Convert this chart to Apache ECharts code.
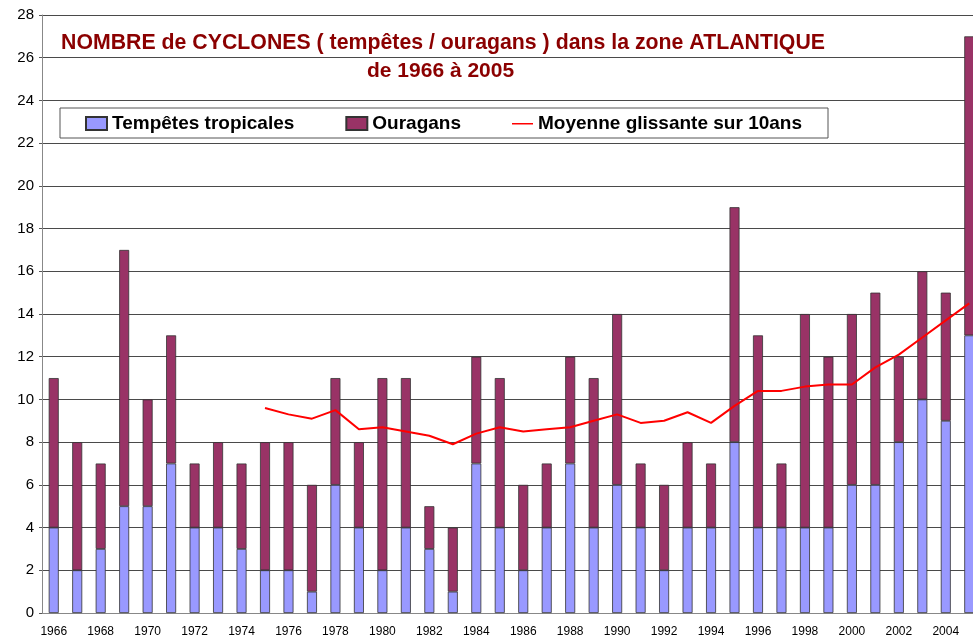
<!DOCTYPE html>
<html>
<head>
<meta charset="utf-8">
<script src="https://cdn.jsdelivr.net/npm/echarts@6/dist/echarts.min.js"></script>
<style>
  html, body { margin: 0; padding: 0; background: #fff; }
  #chart { width: 973px; height: 635px; }
</style>
</head>
<body>
<div id="chart"></div>
<script>
const years = ['1966', '1967', '1968', '1969', '1970', '1971', '1972', '1973', '1974', '1975',
  '1976', '1977', '1978', '1979', '1980', '1981', '1982', '1983', '1984', '1985',
  '1986', '1987', '1988', '1989', '1990', '1991', '1992', '1993', '1994', '1995',
  '1996', '1997', '1998', '1999', '2000', '2001', '2002', '2003', '2004', '2005']

// tempetes tropicales (bas de la pile)
const tempetes = [4, 2, 3, 5, 5, 7, 4, 4, 3, 2,
  2, 1, 6, 4, 2, 4, 3, 1, 7, 4,
  2, 4, 7, 4, 6, 4, 2, 4, 4, 8,
  4, 4, 4, 4, 6, 6, 8, 10, 9, 13]

// ouragans (haut de la pile)
const ouragans = [7, 6, 4, 12, 5, 6, 3, 4, 4, 6,
  6, 5, 5, 4, 9, 7, 2, 3, 5, 7,
  4, 3, 5, 7, 8, 3, 4, 4, 3, 11,
  9, 3, 10, 8, 8, 9, 4, 6, 6, 14]

// moyenne glissante sur 10 ans, commence en 1975
const moyenne = ['-', '-', '-', '-', '-', '-', '-', '-', '-', 9.6,
  9.3, 9.1, 9.5, 8.6, 8.7, 8.5, 8.3, 7.9, 8.4, 8.7,
  8.5, 8.6, 8.7, 9.0, 9.3, 8.9, 9.0, 9.4, 8.9, 9.7,
  10.4, 10.4, 10.6, 10.7, 10.7, 11.5, 12.1, 12.9, 13.7, 14.5]

const yTicks = { min: 0, max: 28, step: 2 }

const font = '"Liberation Sans", Arial, sans-serif'
const titleColor = '#8b0000'

const chart = echarts.init(document.getElementById('chart'))

const option = {
  backgroundColor: '#fff',
  animation: false,
  title: [
    {
      text: 'NOMBRE de CYCLONES ( tempêtes / ouragans ) dans la zone ATLANTIQUE',
      left: 61,
      top: 33,
      padding: 0,
      textStyle: { color: titleColor, fontSize: 21.3, fontWeight: 'bold', fontFamily: font }
    },
    {
      text: 'de 1966 à 2005',
      left: 367,
      top: 61,
      padding: 0,
      textStyle: { color: titleColor, fontSize: 21, fontWeight: 'bold', fontFamily: font }
    }
  ],
  legend: {
    left: 60,
    top: 108,
    padding: [6, 26, 5, 25],
    backgroundColor: '#fff',
    borderColor: '#555',
    borderWidth: 1,
    itemWidth: 21,
    itemHeight: 13,
    itemGap: 51,
    textStyle: { color: '#000', fontSize: 19, fontWeight: 'bold', fontFamily: font },
    data: [
      { name: 'Tempêtes tropicales', icon: 'rect' },
      { name: 'Ouragans', icon: 'rect' },
      { name: 'Moyenne glissante sur 10ans', icon: 'path://M0,0 M21,13 M0,6 L21,6 L21,7.5 L0,7.5 Z' }
    ]
  },
  grid: {
    left: 42,
    right: -8,
    top: 15,
    bottom: 22,
    outerBoundsMode: 'none',
    containLabel: false
  },
  xAxis: {
    type: 'category',
    data: years,
    boundaryGap: true,
    axisLine: { lineStyle: { color: '#888' } },
    axisTick: { interval: 0, length: 4, lineStyle: { color: '#555' } },
    axisLabel: { interval: 1, color: '#000', fontSize: 12, margin: 12.5, fontFamily: font }
  },
  yAxis: {
    type: 'value',
    min: yTicks.min,
    max: yTicks.max,
    interval: yTicks.step,
    axisLine: { show: true, lineStyle: { color: '#888' } },
    axisTick: { show: true, length: 3, lineStyle: { color: '#555' } },
    axisLabel: { color: '#000', fontSize: 15, margin: 8, fontFamily: font },
    splitLine: { lineStyle: { color: '#4a4a4a', width: 1 } }
  },
  series: [
    {
      name: 'Tempêtes tropicales',
      type: 'bar',
      stack: 'total',
      barWidth: 10,
      itemStyle: { color: '#9999ff', borderColor: '#333', borderWidth: 0.8 },
      data: tempetes
    },
    {
      name: 'Ouragans',
      type: 'bar',
      stack: 'total',
      barWidth: 10,
      itemStyle: { color: '#993366', borderColor: '#333', borderWidth: 0.8 },
      data: ouragans
    },
    {
      name: 'Moyenne glissante sur 10ans',
      type: 'line',
      symbol: 'none',
      z: 5,
      lineStyle: { color: '#ff0000', width: 2 },
      itemStyle: { color: '#ff0000' },
      data: moyenne
    }
  ]
}

chart.setOption(option)
</script>
</body>
</html>
